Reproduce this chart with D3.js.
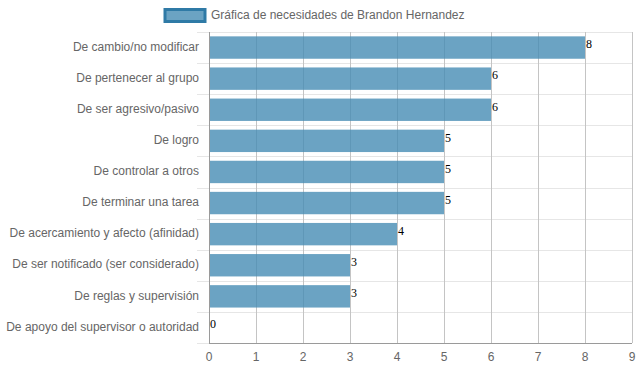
<!DOCTYPE html>
<html>
<head>
<meta charset="utf-8">
<script src="https://cdn.jsdelivr.net/npm/d3@7"></script>
<style>
  body { margin: 0; background: #fff; }
  svg { display: block; font-family: "Liberation Sans", Arial, sans-serif; }
</style>
</head>
<body>
<svg id="chart" width="639" height="372"></svg>
<script>
// categories and values
var categories = [
  "De cambio/no modificar",
  "De pertenecer al grupo",
  "De ser agresivo/pasivo",
  "De logro",
  "De controlar a otros",
  "De terminar una tarea",
  "De acercamiento y afecto (afinidad)",
  "De ser notificado (ser considerado)",
  "De reglas y supervisión",
  "De apoyo del supervisor o autoridad"
];
var values = [8, 6, 6, 5, 5, 5, 4, 3, 3, 0];
var xTicks = [0, 1, 2, 3, 4, 5, 6, 7, 8, 9];
var seriesName = "Gráfica de necesidades de Brandon Hernandez";

var svg = d3.select("#chart");
// plot area edges (note: "top" is reserved on window)
var plotLeft = 209, plotRight = 632, plotTop = 32, plotBottom = 343;

var x = d3.scaleLinear().domain([0, 9]).range([plotLeft, plotRight]);
var y = d3.scaleBand().domain(categories).range([plotTop, plotBottom]);
var inner = 0.72; // bar thickness as share of band

// horizontal grid lines (between categories), extend left as tick marks
var hLines = categories.map(function(c){ return y(c); }).concat([plotBottom]);
svg.append("g").selectAll("line").data(hLines).enter().append("line")
    .attr("x1", plotLeft - 12).attr("x2", plotRight)
    .attr("y1", function(d){ return Math.round(d) + 0.5; })
    .attr("y2", function(d){ return Math.round(d) + 0.5; })
    .attr("stroke", "#e6e6e6").attr("stroke-width", 1);

// vertical grid lines
svg.append("g").selectAll("line").data(xTicks).enter().append("line")
    .attr("x1", function(d){ return Math.round(x(d)) + 0.5; })
    .attr("x2", function(d){ return Math.round(x(d)) + 0.5; })
    .attr("y1", plotTop).attr("y2", plotBottom)
    .attr("stroke", function(d){ return d === 0 ? "#9a9a9a" : "#c4c4c4"; })
    .attr("stroke-width", 1);

// bottom axis line
svg.append("line")
    .attr("x1", plotLeft).attr("x2", plotRight)
    .attr("y1", plotBottom + 0.5).attr("y2", plotBottom + 0.5)
    .attr("stroke", "#9a9a9a");

// bars
svg.append("g").selectAll("rect").data(values).enter().append("rect")
    .attr("x", x(0) + 1)
    .attr("y", function(d, i){ return y(categories[i]) + y.bandwidth() * (1 - inner) / 2; })
    .attr("width", function(d){ return Math.max(0, x(d) - x(0) - 1); })
    .attr("height", y.bandwidth() * inner)
    .attr("fill", "rgba(70,140,180,0.8)");

// value labels
svg.append("g").selectAll("text").data(values).enter().append("text")
    .attr("x", function(d){ return x(d) + 1; })
    .attr("y", function(d, i){ return y(categories[i]) + y.bandwidth() / 2 - 2; })
    .attr("dominant-baseline", "middle")
    .attr("font-family", "'Liberation Serif', 'Times New Roman', serif")
    .attr("font-size", 12)
    .attr("fill", "#000")
    .text(function(d){ return d; });

// category labels
svg.append("g").selectAll("text").data(categories).enter().append("text")
    .attr("x", 199)
    .attr("y", function(d){ return y(d) + y.bandwidth() / 2; })
    .attr("text-anchor", "end")
    .attr("dominant-baseline", "middle")
    .attr("font-size", 12)
    .attr("fill", "#666")
    .text(function(d){ return d; });

// x tick labels
svg.append("g").selectAll("text").data(xTicks).enter().append("text")
    .attr("x", function(d){ return x(d); })
    .attr("y", 358)
    .attr("text-anchor", "middle")
    .attr("dominant-baseline", "middle")
    .attr("font-size", 12)
    .attr("fill", "#666")
    .text(function(d){ return d; });

// legend
svg.append("rect")
    .attr("x", 165).attr("y", 9.5).attr("width", 40).attr("height", 12)
    .attr("fill", "rgba(70,140,180,0.8)")
    .attr("stroke", "#2f7aa6").attr("stroke-width", 3);
svg.append("text")
    .attr("x", 211).attr("y", 15.5)
    .attr("dominant-baseline", "middle")
    .attr("font-size", 12)
    .attr("fill", "#666")
    .text(seriesName);
</script>
</body>
</html>
